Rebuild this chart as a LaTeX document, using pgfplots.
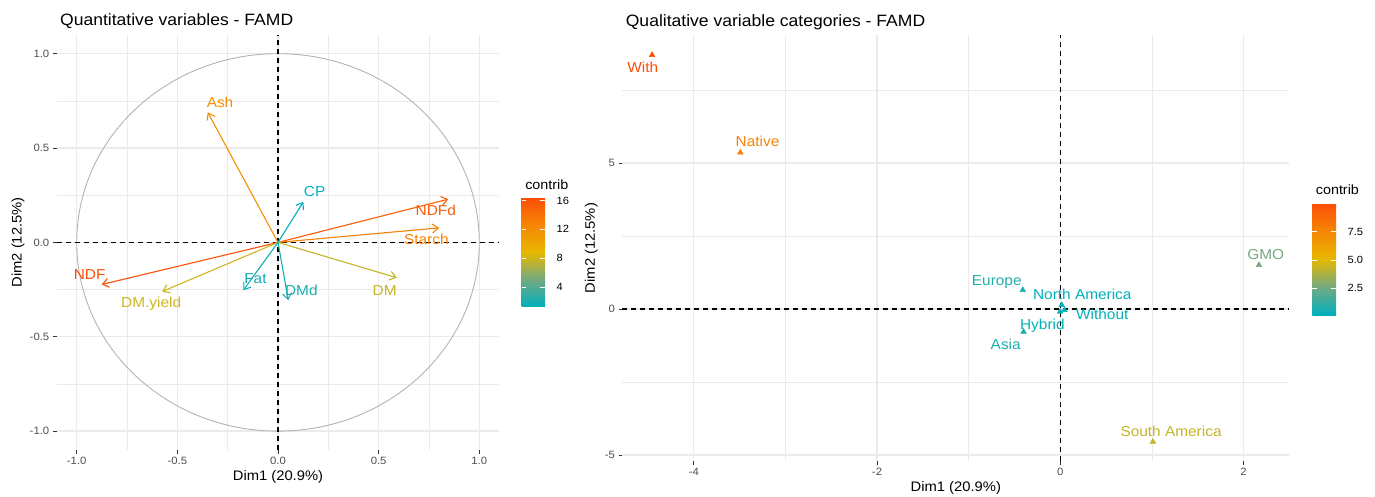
\documentclass[border=0pt]{standalone}
\usepackage{pgfplots}
\pgfplotsset{compat=1.18}
\usepackage{pgfplotstable}
\usetikzlibrary{arrows.meta}
\usepackage{fontspec}
\setmainfont{Liberation Sans}[FakeStretch=1.07]

\newcommand{\fTi}{\fontsize{16.4pt}{18pt}\selectfont}
\newcommand{\fAx}{\fontsize{13.8pt}{15pt}\selectfont}
\newcommand{\fTick}{\fontsize{10.6pt}{12pt}\selectfont}
\newcommand{\fLab}{\fontsize{14.4pt}{16pt}\selectfont}
\newcommand{\fLegT}{\fontsize{13.4pt}{15pt}\selectfont}
\newcommand{\fLeg}{\fontsize{10.4pt}{12pt}\selectfont}

\definecolor{gridc}{RGB}{235,235,235}
\definecolor{tickc}{RGB}{51,51,51}
\definecolor{tlabc}{RGB}{77,77,77}
\definecolor{circc}{RGB}{179,179,179}
% label colours (taken from the colour scale)
\definecolor{cNDF}{RGB}{252,78,7}
\definecolor{cNDFd}{RGB}{250,93,6}
\definecolor{cStarch}{RGB}{246,129,5}
\definecolor{cAsh}{RGB}{243,143,4}
\definecolor{cDM}{RGB}{197,180,38}
\definecolor{cDMy}{RGB}{206,181,28}
\definecolor{cCP}{RGB}{0,175,187}
\definecolor{cFat}{RGB}{20,174,177}
\definecolor{cDMd}{RGB}{22,174,176}
\definecolor{cWith}{RGB}{252,78,7}
\definecolor{cNative}{RGB}{246,129,5}
\definecolor{cSA}{RGB}{195,180,41}
\definecolor{cGMO}{RGB}{115,170,130}
\definecolor{cEur}{RGB}{31,174,172}
\definecolor{cAsia}{RGB}{31,174,172}
\definecolor{cNA}{RGB}{0,175,187}
\definecolor{cWo}{RGB}{2,175,186}
\definecolor{cHy}{RGB}{7,175,183}

\pgfplotsset{colormap={famd}{rgb255=(0,175,187) rgb255=(115,170,130) rgb255=(231,184,0) rgb255=(245,135,5) rgb255=(252,78,7)}}

% quantitative variables: arrows from origin, contribution
\pgfplotstableread{
x y u v c
0 0 -0.876 -0.223 16.40
0 0 0.846 0.229 15.40
0 0 0.801 0.077 13.00
0 0 -0.349 0.689 12.00
0 0 0.590 -0.187 7.70
0 0 -0.575 -0.260 8.00
0 0 0.126 0.215 1.24
0 0 -0.172 -0.253 1.90
0 0 0.051 -0.306 1.95
}\quanttab

% qualitative categories: With, Native, Europe, North America, Without, Hybrid, Asia, GMO, South America
\pgfplotstableread{
x y c
-4.456 8.700 10.00
-3.492 5.360 7.80
-0.409 0.651 0.80
0.016 0.137 0.14
0.047 -0.034 0.20
-0.002 -0.090 0.30
-0.400 -0.780 0.80
2.170 1.507 2.60
1.012 -4.544 4.30
}\qualtab

\pgfplotsset{
  ggbase/.style={
    scale only axis, clip=false,
    axis line style={draw=none},
    tick pos=left, tick align=outside,
    major tick length=3.8pt, minor tick length=0pt,
    tick style={tickc, line width=0.9pt},
    grid=both,
    major grid style={gridc, line width=1.3pt},
    minor grid style={gridc, line width=0.65pt},
    ticklabel style={font=\fTick, text=tlabc},
    /pgf/number format/assume math mode=true,
    colormap name=famd,
  },
  cbar/.style={
    scale only axis,
    axis line style={draw=none}, grid=none,
    ytick pos=both, yticklabel pos=right,
    tick align=inside, major tick length=4.7pt,
    tick style={white, line width=0.7pt},
    yticklabel style={font=\fLeg, text=black, xshift=8pt},
    /pgf/number format/assume math mode=true,
    every axis title/.style={at={(0,1)}, anchor=base west, yshift=8.4pt, font=\fLegT},
    title={contrib},
  },
  lab/.style={
    only marks, mark=*, mark size=0pt, mark options={draw=none, fill=none},
    point meta=explicit symbolic,
    nodes near coords,
    every node near coord/.append style={anchor=base, inner sep=0pt, font=\fLab, text=#1},
  },
  zline/.style={black, line width=1.1pt, dash pattern=on 5pt off 4pt},
}

\begin{document}
\begin{tikzpicture}

% ---------------- left panel ----------------
\begin{axis}[ggbase,
  at={(56.6pt,46pt)}, anchor=south west, width=442.8pt, height=415.2pt,
  xmin=-1.1, xmax=1.1, ymin=-1.1, ymax=1.1,
  xtick={-1,-0.5,0,0.5,1}, ytick={-1,-0.5,0,0.5,1},
  minor xtick={-0.75,-0.25,0.25,0.75}, minor ytick={-0.75,-0.25,0.25,0.75},
  xticklabel style={/pgf/number format/.cd, fixed, fixed zerofill, precision=1},
  yticklabel style={/pgf/number format/.cd, fixed, fixed zerofill, precision=1},
  xlabel={Dim1 (20.9\%)}, ylabel={Dim2 (12.5\%)},
  every axis x label/.style={at={(0.5,-0.0739)}, anchor=base, font=\fAx},
  every axis y label/.style={at={(-0.079,0.5)}, rotate=90, anchor=base, font=\fAx},
  title={Quantitative variables - FAMD},
  every axis title/.style={at={(0,1.0212)}, anchor=base west, font=\fTi},
  point meta min=1.24, point meta max=16.4,
  colorbar, colorbar/width=23.3pt,
  colorbar style={cbar,
    at={(parent axis.south east)}, anchor=south west,
    xshift=13.8pt, yshift=143.3pt,
    height=109pt,
    ytick={4,8,12,16},
  },
]
\draw[circc, line width=0.9pt] (axis cs:0,0) ellipse [x radius=1, y radius=1];
\addplot[zline] coordinates {(-1.1,0) (1.1,0)};
\addplot[zline] coordinates {(0,-1.1) (0,1.1)};
\addplot[point meta=\thisrow{c},
  quiver={u=\thisrow{u}, v=\thisrow{v}, colored=mapped color,
    every arrow/.append style={-{Straight Barb[length=6pt,width=9pt]}, line width=1.1pt}}]
  table {\quanttab};
\addplot[lab=cNDF] coordinates {(-0.936,-0.196) [NDF]};
\addplot[lab=cNDFd] coordinates {(0.784,0.145) [NDFd]};
\addplot[lab=cStarch] coordinates {(0.737,-0.009) [Starch]};
\addplot[lab=cAsh] coordinates {(-0.288,0.715) [Ash]};
\addplot[lab=cDM] coordinates {(0.530,-0.279) [DM]};
\addplot[lab=cDMy] coordinates {(-0.630,-0.345) [DM.yield]};
\addplot[lab=cCP] coordinates {(0.182,0.242) [CP]};
\addplot[lab=cFat] coordinates {(-0.112,-0.217) [Fat]};
\addplot[lab=cDMd] coordinates {(0.116,-0.279) [DMd]};
\end{axis}

% ---------------- right panel ----------------
\begin{axis}[ggbase,
  at={(622.3pt,34.8pt)}, anchor=south west, width=667pt, height=426.2pt,
  xmin=-4.781, xmax=2.501, ymin=-5.2135, ymax=9.3835,
  xtick={-4,-2,0,2}, ytick={-5,0,5},
  minor xtick={-3,-1,1}, minor ytick={-2.5,2.5,7.5},
  xlabel={Dim1 (20.9\%)}, ylabel={Dim2 (12.5\%)},
  every axis x label/.style={at={(0.5,-0.0716)}, anchor=base, font=\fAx},
  every axis y label/.style={at={(-0.0411,0.5)}, rotate=90, anchor=base, font=\fAx},
  title={Qualitative variable categories - FAMD},
  every axis title/.style={at={(0,1.0211)}, anchor=base west, font=\fTi},
  point meta min=0.14, point meta max=10.0,
  colorbar, colorbar/width=23.7pt,
  colorbar style={cbar,
    at={(parent axis.south east)}, anchor=south west,
    xshift=14.5pt, yshift=146.2pt,
    height=111.7pt,
    ytick={2.5,5,7.5},
    yticklabel style={/pgf/number format/.cd, fixed, fixed zerofill, precision=1},
  },
]
\addplot[zline] coordinates {(-4.781,0) (2.501,0)};
\addplot[zline] coordinates {(0,-5.2135) (0,9.3835)};
\addplot[scatter, only marks, mark=triangle*, mark size=3.3pt,
  point meta=\thisrow{c},
  scatter/use mapped color={draw=mapped color, fill=mapped color}]
  table {\qualtab};
\addplot[lab=cWith] coordinates {(-4.557,8.092) [With]};
\addplot[lab=cNative] coordinates {(-3.305,5.558) [Native]};
\addplot[lab=cEur] coordinates {(-0.693,0.811) [Europe]};
\addplot[lab=cNA] coordinates {(0.241,0.332) [North America]};
\addplot[lab=cWo] coordinates {(0.459,-0.353) [Without]};
\addplot[lab=cHy] coordinates {(-0.195,-0.719) [Hybrid]};
\addplot[lab=cAsia] coordinates {(-0.595,-1.380) [Asia]};
\addplot[lab=cGMO] coordinates {(2.243,1.702) [GMO]};
\addplot[lab=cSA] coordinates {(1.210,-4.373) [South America]};
\end{axis}

\pgfresetboundingbox
\path[use as bounding box] (0pt,0pt) rectangle (1375pt,496pt);
\end{tikzpicture}
\end{document}
